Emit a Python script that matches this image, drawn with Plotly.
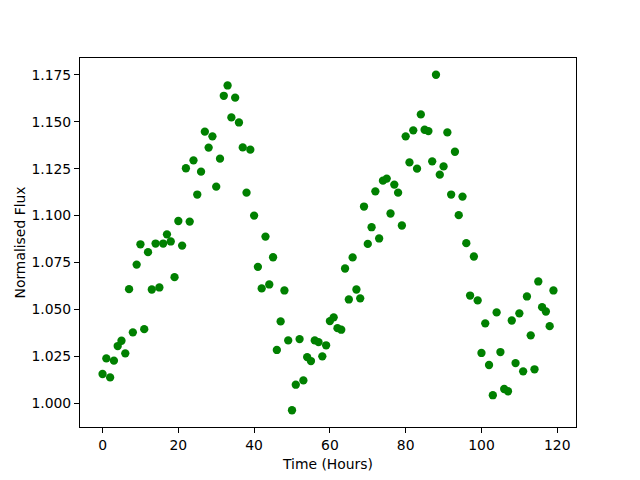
import plotly.graph_objects as go

hours = list(range(120))
flux = [
    1.0156, 1.0239, 1.0138, 1.0227, 1.0305, 1.0333, 1.0266, 1.0608, 1.0378, 1.0739,
    1.0847, 1.0395, 1.0805, 1.0606, 1.0851, 1.0617, 1.0851, 1.0900, 1.0862, 1.0672,
    1.0971, 1.0840, 1.1252, 1.0968, 1.1294, 1.1112, 1.1234, 1.1447, 1.1362, 1.1422,
    1.1154, 1.1303, 1.1638, 1.1693, 1.1523, 1.1628, 1.1496, 1.1363, 1.1122, 1.1351,
    1.1000, 1.0727, 1.0612, 1.0888, 1.0633, 1.0778, 1.0284, 1.0436, 1.0601, 1.0335,
    0.9963, 1.0099, 1.0342, 1.0122, 1.0246, 1.0225, 1.0335, 1.0326, 1.0250, 1.0309,
    1.0438, 1.0458, 1.0400, 1.0392, 1.0718, 1.0553, 1.0777, 1.0606, 1.0559, 1.1048,
    1.0849, 1.0938, 1.1129, 1.0878, 1.1186, 1.1197, 1.1011, 1.1165, 1.1122, 1.0947,
    1.1422, 1.1283, 1.1454, 1.1250, 1.1539, 1.1457, 1.1450, 1.1289, 1.1750, 1.1218,
    1.1262, 1.1443, 1.1112, 1.1340, 1.1002, 1.1101, 1.0853, 1.0574, 1.0782, 1.0548,
    1.0268, 1.0426, 1.0204, 1.0043, 1.0484, 1.0273, 1.0076, 1.0064, 1.0441, 1.0214,
    1.0479, 1.0170, 1.0569, 1.0362, 1.0181, 1.0649, 1.0512, 1.0489, 1.0411, 1.0601,
]

x_ticks = [0, 20, 40, 60, 80, 100, 120]
y_ticks = [1.000, 1.025, 1.050, 1.075, 1.100, 1.125, 1.150, 1.175]

xmin, xmax = min(hours), max(hours)
ymin, ymax = min(flux), max(flux)
xpad = 0.05 * (xmax - xmin)
ypad = 0.05 * (ymax - ymin)

font = dict(family="DejaVu Sans", size=13.9, color="black")

fig = go.Figure(
    go.Scatter(
        x=hours, y=flux, mode="markers",
        marker=dict(color="green", size=8.3, line=dict(width=0)),
        showlegend=False,
    )
)

axis_common = dict(
    showline=True, linecolor="black", linewidth=1, mirror=True,
    ticks="outside", ticklen=5, tickwidth=1, tickcolor="black",
    showgrid=False, zeroline=False, tickfont=font,
)

fig.update_layout(
    width=640, height=480,
    margin=dict(l=72, r=72, t=50, b=61),
    paper_bgcolor="white", plot_bgcolor="white",
    font=font,
    xaxis=dict(
        range=[xmin - xpad, xmax + xpad],
        tickmode="array", tickvals=x_ticks,
        ticktext=[str(v) for v in x_ticks],
        title=dict(text="Time (Hours)", font=font, standoff=7),
        **axis_common,
    ),
    yaxis=dict(
        range=[ymin - ypad, ymax + ypad],
        tickmode="array", tickvals=y_ticks,
        ticktext=[f"{v:.3f}" for v in y_ticks],
        title=dict(text="Normalised Flux", font=font, standoff=2),
        **axis_common,
    ),
)

fig.write_html("out.html")
